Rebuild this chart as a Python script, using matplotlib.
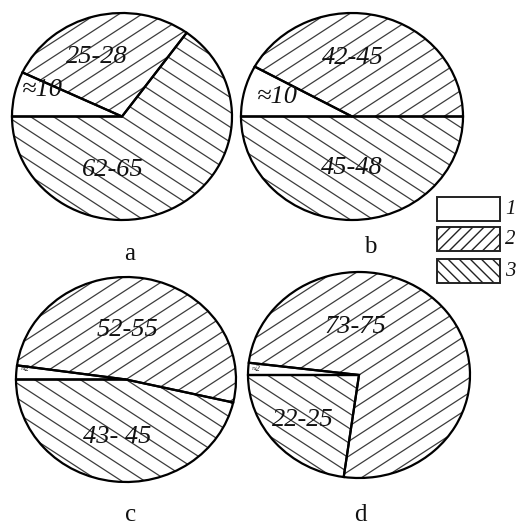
import numpy as np
import matplotlib
matplotlib.use("Agg")
import matplotlib.pyplot as plt
from matplotlib.collections import LineCollection
from matplotlib.patches import Rectangle

plt.rcParams['font.family'] = ['Liberation Serif', 'DejaVu Serif']

# ---- data (shares, clockwise from 9 o'clock) ----
slice_kinds = [1, 2, 3]          # 1 = blank, 2 = "/" hatch, 3 = "\" hatch
shares_a = [7, 28, 65]
shares_b = [8, 42, 50]
shares_c = [2.2, 51.4, 46.4]
shares_d = [1.9, 75.3, 22.8]
labels_a = ["≈10", "25-28", "62-65"]
labels_b = ["≈10", "42-45", "45-48"]
labels_c = ["≈2", "52-55", "43- 45"]
labels_d = ["≈2", "73-75", "22-25"]
panel_names = ["a", "b", "c", "d"]
legend_labels = ["1", "2", "3"]

W, H = 517, 525
fig = plt.figure(figsize=(W / 100, H / 100), dpi=100)
fig.patch.set_facecolor("white")

# layout in pixels (y measured from top): centre x, centre y, radius x, radius y
geom = {
    "a": (122, 116.5, 110, 103.5),
    "b": (352, 116.5, 111, 103.5),
    "c": (126, 379.5, 110, 102.5),
    "d": (359, 375, 111, 103),
}
# label positions in pixels (per slice order)
label_pos = {
    "a": [(42, 90), (97, 57), (113, 170)],
    "b": [(277, 97), (353, 58), (352, 168)],
    "c": [(25, 369), (127, 330), (117, 437)],
    "d": [(256, 369), (355, 327), (303, 420)],
}
panel_pos = {"a": (130, 260), "b": (370, 253), "c": (131, 521), "d": (360, 521)}

K = 1.08
ANG = np.deg2rad(33)
SPACING = 12.5


def add_hatch(ax, wedge, kind, rx, ry):
    if kind == 2:
        d = np.array([np.cos(ANG), np.sin(ANG)])
    else:
        d = np.array([np.cos(ANG), -np.sin(ANG)])
    n = np.array([-d[1], d[0]])
    R = np.hypot(rx, ry) * K
    segs = []
    for off in np.arange(-np.ceil(R / SPACING) * SPACING, R + SPACING, SPACING):
        p0 = n * off - d * R
        p1 = n * off + d * R
        segs.append([(p0[0] / rx, p0[1] / ry), (p1[0] / rx, p1[1] / ry)])
    lc = LineCollection(segs, colors="#3c3c3c", linewidths=0.9,
                        transform=ax.transData, zorder=2)
    ax.add_collection(lc)
    lc.set_clip_path(wedge)


all_shares = {"a": shares_a, "b": shares_b, "c": shares_c, "d": shares_d}
for name in panel_names:
    cx, cy, rx, ry = geom[name]
    left = (cx - rx * K) / W
    bottom = (H - (cy + ry * K)) / H
    ax = fig.add_axes([left, bottom, 2 * rx * K / W, 2 * ry * K / H])
    wedges, _ = ax.pie(all_shares[name], startangle=180, counterclock=False,
                       colors=["none"] * 3, radius=1,
                       wedgeprops=dict(edgecolor="black", linewidth=1.6,
                                       fill=False, zorder=3))
    for w, kind in zip(wedges, slice_kinds):
        if kind != 1:
            add_hatch(ax, w, kind, rx, ry)
    ax.set_xlim(-K, K)
    ax.set_ylim(-K, K)
    ax.set_aspect("auto")
    ax.axis("off")

# overlay axes in pixel coordinates for text and legend
ov = fig.add_axes([0, 0, 1, 1], zorder=10)
ov.set_xlim(0, W)
ov.set_ylim(H, 0)
ov.axis("off")

all_labels = {"a": labels_a, "b": labels_b, "c": labels_c, "d": labels_d}
for name in panel_names:
    for lab, (x, y), kind in zip(all_labels[name], label_pos[name], slice_kinds):
        small = lab == "≈2"
        ov.text(x, y, lab, fontsize=6 if small else 19, style="italic",
                ha="center", va="center", color="#111111")
    px, py = panel_pos[name]
    ov.text(px, py, name, fontsize=18, ha="center", va="baseline", color="#111111")

# legend boxes
box_y = [197, 227, 259]
hatches = [None, "///", "\\\\\\"]
for y0, h, lab in zip(box_y, hatches, legend_labels):
    r = Rectangle((437, y0), 63, 24, facecolor="white", edgecolor="#222222",
                  linewidth=1.4, hatch=h)
    ov.add_patch(r)
    ov.text(505, y0 + 13, lab, fontsize=15, style="italic", ha="left",
            va="center", color="#111111")

plt.rcParams['hatch.linewidth'] = 0.8
fig.savefig("out.png", dpi=100)
